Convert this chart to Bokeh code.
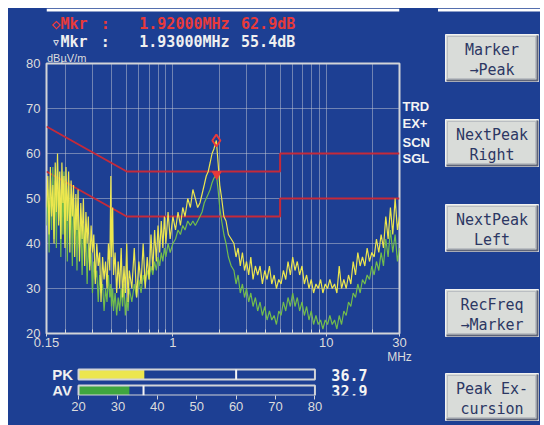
from bokeh.plotting import figure
from bokeh.layouts import column, row
from bokeh.models import Range1d, FixedTicker, LogAxis, LinearAxis
from bokeh.embed import file_html
from bokeh.resources import INLINE
from bokeh.core.properties import value

freq_mhz = [
    0.150, 0.153, 0.156, 0.159, 0.162, 0.165, 0.168, 0.171, 0.174, 0.177,
    0.180, 0.183, 0.186, 0.189, 0.192, 0.195, 0.198, 0.201, 0.205, 0.209,
    0.213, 0.217, 0.221, 0.225, 0.229, 0.233, 0.237, 0.241, 0.246, 0.251,
    0.256, 0.261, 0.266, 0.271, 0.276, 0.281, 0.287, 0.293, 0.299, 0.305,
    0.312, 0.319, 0.326, 0.333, 0.340, 0.348, 0.356, 0.364, 0.372, 0.380,
    0.388, 0.394, 0.398, 0.405, 0.41, 0.42, 0.43, 0.44, 0.45, 0.46,
    0.47, 0.48, 0.49, 0.50, 0.51, 0.52, 0.54, 0.56, 0.58, 0.60,
    0.62, 0.64, 0.66, 0.68, 0.70, 0.72, 0.74, 0.76, 0.78, 0.80,
    0.82, 0.84, 0.86, 0.88, 0.90, 0.93, 0.96, 1.00, 1.04, 1.08,
    1.12, 1.16, 1.20, 1.25, 1.30, 1.35, 1.40, 1.45, 1.50, 1.55,
    1.60, 1.65, 1.70, 1.75, 1.80, 1.85, 1.92, 1.97, 2.02, 2.08,
    2.15, 2.22, 2.30, 2.40, 2.50, 2.58, 2.66, 2.75, 2.84, 2.93,
    3.02, 3.12, 3.22, 3.33, 3.45, 3.57, 3.70, 3.83, 3.97, 4.11,
    4.26, 4.41, 4.57, 4.73, 4.90, 5.07, 5.25, 5.44, 5.63, 5.83,
    6.04, 6.25, 6.47, 6.70, 6.94, 7.19, 7.44, 7.71, 7.98, 8.26,
    8.56, 8.86, 9.18, 9.50, 9.84, 10.19, 10.55, 10.93, 11.32, 11.72,
    12.14, 12.57, 13.01, 13.48, 13.96, 14.45, 14.97, 15.50, 16.05, 16.62,
    17.21, 17.83, 18.46, 19.12, 19.80, 20.50, 21.23, 21.99, 22.77, 23.58,
    24.42, 25.29, 26.19, 27.12, 28.09, 29.09, 30.0,
]
pk_dbuv = [
    48, 55, 42, 57, 46, 53, 40, 58, 47, 60,
    44, 56, 41, 58, 49, 55, 39, 57, 45, 56,
    38, 54, 46, 53, 37, 51, 43, 52, 36, 49,
    41, 50, 35, 47, 40, 46, 34, 44, 38, 42,
    31, 40, 35, 38, 27, 37, 32, 36, 30, 40,
    34, 55, 37, 48, 33, 38, 29, 36, 30, 39,
    28, 35, 29, 40, 27, 34, 30, 39, 28, 36,
    31, 40, 30, 37, 32, 42, 34, 43, 36, 44,
    38, 45, 39, 46, 40, 47, 41, 46, 43, 47,
    44, 48, 46, 50, 48, 52, 50, 48, 49, 51,
    53, 55, 56, 58, 60, 61, 62.9, 58, 53, 50,
    46, 45, 42, 41, 40, 37, 39, 35, 38, 34,
    36, 33, 37, 32, 35, 33, 35, 31, 34, 32,
    35, 31, 33, 30, 32, 31, 34, 32, 36, 33,
    37, 34, 36, 33, 35, 31, 33, 30, 32, 29,
    31, 30, 32, 29, 31, 30, 32, 30, 31, 29,
    35, 30, 32, 30, 33, 31, 36, 33, 38, 35,
    37, 35, 39, 36, 38, 37, 41, 38, 42, 39,
    46, 41, 48, 42, 50, 43, 46,
]
av_dbuv = [
    44, 52, 38, 55, 43, 57, 41, 54, 39, 58,
    45, 52, 37, 55, 42, 56, 40, 53, 36, 54,
    43, 51, 35, 50, 42, 48, 34, 47, 39, 45,
    33, 44, 38, 42, 31, 40, 35, 38, 29, 36,
    32, 34, 27, 33, 29, 31, 25, 30, 27, 33,
    28, 31, 26, 30, 25, 29, 24, 28, 25, 30,
    26, 31, 24, 28, 25, 30, 27, 31, 28, 32,
    29, 33, 31, 34, 32, 35, 33, 36, 34, 37,
    35, 38, 36, 39, 37, 40, 38, 40, 41, 43,
    42, 44, 43, 45, 44, 45, 44, 45, 46, 47,
    49, 50, 51, 52, 53.5, 54.5, 55.4, 52, 48, 45,
    42, 40, 37, 35, 34, 31, 33, 29, 31, 28,
    30, 27, 29, 26, 28, 25, 27, 24, 26, 23,
    25, 23, 24, 22, 25, 24, 27, 25, 28, 26,
    29, 26, 28, 25, 27, 24, 26, 23, 25, 22,
    24, 22, 23, 21, 23, 22, 24, 22, 23, 21,
    24, 22, 25, 24, 27, 26, 29, 28, 31, 29,
    32, 31, 33, 32, 35, 33, 36, 34, 38, 35,
    41, 37, 43, 38, 42, 36, 39,
]
qp_limit_freq = [0.15, 0.5, 5.0, 5.0, 30.0]
qp_limit_dbuv = [66, 56, 56, 60, 60]
av_limit_freq = [0.15, 0.5, 5.0, 5.0, 30.0]
av_limit_dbuv = [56, 46, 46, 50, 50]
mkr1_freq, mkr1_level = 1.92, 62.9
mkr2_freq, mkr2_level = 1.93, 55.4
x_major_ticks = [0.15, 1, 10, 30]
x_minor_ticks = [0.2, 0.3, 0.4, 0.5, 0.6, 0.7, 0.8, 0.9,
                 2, 3, 4, 5, 6, 7, 8, 9, 20]
y_ticks = [20, 30, 40, 50, 60, 70, 80]
y_unit = "dBµV/m"
x_unit = "MHz"
status_flags = ["TRD", "EX+", "SCN", "SGL"]
status_levels = [70.4, 66.6, 62.4, 58.9]
meter_names = ["PK", "AV"]
meter_levels = [36.7, 32.9]
meter_holds = [60.0, 36.5]
meter_ticks = [20, 30, 40, 50, 60, 70, 80]
softkeys = [["Marker", "→Peak"], ["NextPeak", "Right"], ["NextPeak", "Left"],
            ["RecFreq", "→Marker"], ["Peak Ex-", "cursion"]]

# ---------------- style ----------------
BLUE = "#1d3f93"
FRAME = "#d2d4d8"
GRID = "#c4c8d2"
TXT = "#dcdcdc"
LIMIT_RED = "#c42a3a"
MKR_RED = "#e83a3a"
YELLOW = "#ece64e"
GREEN = "#72bc4c"
MONO = "DejaVu Sans Mono"
SANS = "Liberation Sans"
Y_UNIT_AT = 0.203   # frequency above which the level-unit caption is centred


def bg(z):
    return {"background-color": BLUE, "z-index": str(z)}


def blank(width, height, xr, yr, z, **kw):
    # no canvas fills at all: the blue comes from the element background
    f = figure(width=width, height=height, x_range=xr, y_range=yr,
               x_axis_location=None, y_axis_location=None,
               output_backend="svg", toolbar_location=None, min_border=0,
               background_fill_color=None, border_fill_color=None,
               outline_line_color=None, styles=bg(z), **kw)
    f.xgrid.visible = False
    f.ygrid.visible = False
    return f


# ---------------- header (marker readout), page px coords ----------------
head = blank(430, 41, Range1d(8, 438), Range1d(49, 8), 3)
head.quad(left=[8], right=[438], top=[8], bottom=[11], fill_color="white", line_color=None)
row1 = ["◇Mkr", ":", f"{mkr1_freq:.5f}MHz", f"{mkr1_level:.1f}dB"]
row2 = ["▿Mkr", ":", f"{mkr2_freq:.5f}MHz", f"{mkr2_level:.1f}dB"]
cols_x = [14, 74, 121, 245]
head.text(x=cols_x, y=[23.5] * 4, text=row1, text_color=MKR_RED,
          text_font=value(MONO), text_font_size="15px", text_font_style="bold",
          text_line_height=1.0, text_baseline="middle", text_align="left")
head.text(x=cols_x, y=[41] * 4, text=row2, text_color="#f0f0f0",
          text_font=value(MONO), text_font_size="15px", text_font_style="bold",
          text_line_height=1.0, text_baseline="middle", text_align="left")

# ---------------- main spectrum chart ----------------
main = figure(width=430, height=318, x_axis_type="log",
              x_range=Range1d(0.15, 30), y_range=Range1d(20, 80),
              output_backend="svg", toolbar_location=None,
              min_border_left=38, min_border_right=39, min_border_top=15, min_border_bottom=33,
              background_fill_color=None, border_fill_color=None,
              outline_line_color=FRAME, outline_line_width=2, styles=bg(2),
              margin=(-1, 0, 0, 0))

xa = main.xaxis[0]
xa.ticker = FixedTicker(ticks=x_major_ticks, minor_ticks=x_minor_ticks)
xa.major_label_overrides = {t: f"{t:g}" for t in x_major_ticks}
xa.axis_line_color = None
xa.major_tick_in = 0
xa.major_tick_out = 3
xa.minor_tick_in = 4
xa.minor_tick_out = 0
xa.major_tick_line_color = FRAME
xa.minor_tick_line_color = FRAME
xa.major_label_text_color = TXT
xa.major_label_text_font = SANS
xa.major_label_text_font_size = "13px"
xa.major_label_standoff = 1


def caption_axis(cls, tick, text, size, **kw):
    return cls(ticker=FixedTicker(ticks=[tick], minor_ticks=[]),
               major_label_overrides={tick: text},
               axis_line_color=None, major_tick_line_color=None, minor_tick_line_color=None,
               major_tick_in=0, major_tick_out=0, minor_tick_in=0, minor_tick_out=0,
               major_label_standoff=0, major_label_text_color=TXT,
               major_label_text_font=SANS, major_label_text_font_size=size, **kw)


main.add_layout(caption_axis(LogAxis, x_major_ticks[-1], x_unit, "12px"), "below")
main.add_layout(caption_axis(LogAxis, Y_UNIT_AT, y_unit, "11px"), "above")

ya = main.yaxis[0]
ya.ticker = FixedTicker(ticks=y_ticks)
ya.axis_line_color = None
ya.major_tick_line_color = None
ya.minor_tick_line_color = None
ya.major_tick_in = 0
ya.major_tick_out = 0
ya.major_label_text_color = TXT
ya.major_label_text_font = SANS
ya.major_label_text_font_size = "13px"
ya.major_label_standoff = 6

# status flags at the right of the frame
flag_axis = LinearAxis(ticker=FixedTicker(ticks=status_levels, minor_ticks=[]),
                       major_label_overrides=dict(zip(status_levels, status_flags)),
                       axis_line_color=None, major_tick_line_color=None, minor_tick_line_color=None,
                       major_tick_in=0, major_tick_out=0, minor_tick_in=0, minor_tick_out=0,
                       major_label_standoff=3, major_label_text_color="#f4f4f4",
                       major_label_text_font=SANS, major_label_text_font_size="13px",
                       major_label_text_font_style="bold", major_label_orientation="horizontal")
main.add_layout(flag_axis, "right")

for g in (main.xgrid[0], main.ygrid[0]):
    g.grid_line_color = GRID
    g.grid_line_dash = "1 1"
    g.grid_line_width = 1
main.xgrid[0].minor_grid_line_color = GRID
main.xgrid[0].minor_grid_line_dash = "1 1"

main.line(qp_limit_freq, qp_limit_dbuv, line_color=LIMIT_RED, line_width=2)
main.line(av_limit_freq, av_limit_dbuv, line_color=LIMIT_RED, line_width=2)
main.line(freq_mhz, av_dbuv, line_color=GREEN, line_width=1.2)
main.line(freq_mhz, pk_dbuv, line_color=YELLOW, line_width=1.2)
main.scatter([mkr1_freq], [mkr1_level], marker="diamond", size=12,
             fill_color=None, line_color=MKR_RED, line_width=2)
main.scatter([mkr2_freq], [mkr2_level], marker="inverted_triangle", size=9,
             fill_color=MKR_RED, line_color=MKR_RED, line_width=1)

# ---------------- level meter (PK / AV) ----------------
M_PX0, M_PX1 = 47, 335          # page x of 20 and 80
m_scale = (M_PX1 - M_PX0) / (meter_ticks[-1] - meter_ticks[0])
m_lo = meter_ticks[0] - (M_PX0 - 8) / m_scale
m_hi = meter_ticks[-1] + (438 - M_PX1) / m_scale


def mx(px):
    return m_lo + (px - 8) / m_scale


meter = figure(width=430, height=60, x_range=Range1d(m_lo, m_hi), y_range=Range1d(395, 365),
               y_axis_location=None, output_backend="svg", toolbar_location=None,
               min_border_left=0, min_border_right=0, min_border_top=0, min_border_bottom=30,
               background_fill_color=None, border_fill_color=None, outline_line_color=None,
               styles=bg(1), margin=(-1, 0, 0, 0))
meter.xgrid.visible = False
meter.ygrid.visible = False
ma = meter.xaxis[0]
ma.ticker = FixedTicker(ticks=meter_ticks)
ma.axis_line_color = None
ma.major_tick_in = 0
ma.major_tick_out = 4
ma.major_tick_line_color = FRAME
ma.minor_tick_line_color = None
ma.major_label_text_color = TXT
ma.major_label_text_font = SANS
ma.major_label_text_font_size = "13px"
ma.major_label_standoff = 2

ROWS = [374, 390]
meter.hbar(y=ROWS, left=meter_ticks[0], right=meter_levels, height=9,
           fill_color=[YELLOW, "#3fa63f"], line_color=None)
meter.hbar(y=ROWS, left=meter_ticks[0], right=meter_ticks[-1], height=10,
           fill_color=None, line_color=FRAME, line_width=2)
meter.segment(x0=meter_holds, x1=meter_holds, y0=[r - 5 for r in ROWS], y1=[r + 5 for r in ROWS],
              line_color="#f4f4f4", line_width=2)
meter.text(x=[mx(15)] * 2, y=ROWS, text=meter_names, text_color="#f0f0f0",
           text_font=value(SANS), text_font_size="15px", text_font_style="bold",
           text_line_height=1.0, text_baseline="middle", text_align="left")
meter.text(x=[mx(399)] * 2, y=ROWS, text=[f"{v:.1f}" for v in meter_levels],
           text_color="#f4f4f4", text_font=value(MONO), text_font_size="15px",
           text_font_style="bold", text_line_height=1.0,
           text_baseline="middle", text_align="right")

# ---------------- soft keys ----------------
keys = blank(103, 417, Range1d(437, 540), Range1d(425, 8), 1, margin=(0, 0, 0, -1))
keys.quad(left=[437], right=[540], top=[8], bottom=[11], fill_color="white", line_color=None)
tops = [34, 119, 204, 289, 373]
KH = 47
KL, KR = 445, 538
keys.quad(left=[KL] * 5, right=[KR] * 5, top=tops, bottom=[t + KH for t in tops],
          fill_color="#d9dcd9", line_color="#f2f2f2", line_width=1)
keys.quad(left=[KL + 2] * 5, right=[KR - 3] * 5, top=[t + 2 for t in tops],
          bottom=[t + KH - 3 for t in tops], fill_color=None, line_color="#9aa0aa",
          line_width=1, line_dash="1 1")
keys.multi_line(xs=[[KL + 1, KR - 1, KR - 1] for _ in tops],
                ys=[[t + KH - 1, t + KH - 1, t + 1] for t in tops],
                line_color="#5e6478", line_width=2)
keys.text(x=[(KL + KR) / 2] * 5, y=[t + 15 for t in tops], text=[k[0] for k in softkeys],
          text_color="#2c3763", text_font=value(MONO), text_font_size="15px",
          text_baseline="middle", text_align="center")
keys.text(x=[(KL + KR) / 2] * 5, y=[t + 35 for t in tops], text=[k[1] for k in softkeys],
          text_color="#2c3763", text_font=value(MONO), text_font_size="15px",
          text_baseline="middle", text_align="center")

left_col = column(head, main, meter, spacing=0, styles=bg(2))
layout = row(left_col, keys, spacing=0, margin=(8, 0, 0, 8), styles=bg(0))
open("out.html", "w").write(file_html(layout, INLINE))
